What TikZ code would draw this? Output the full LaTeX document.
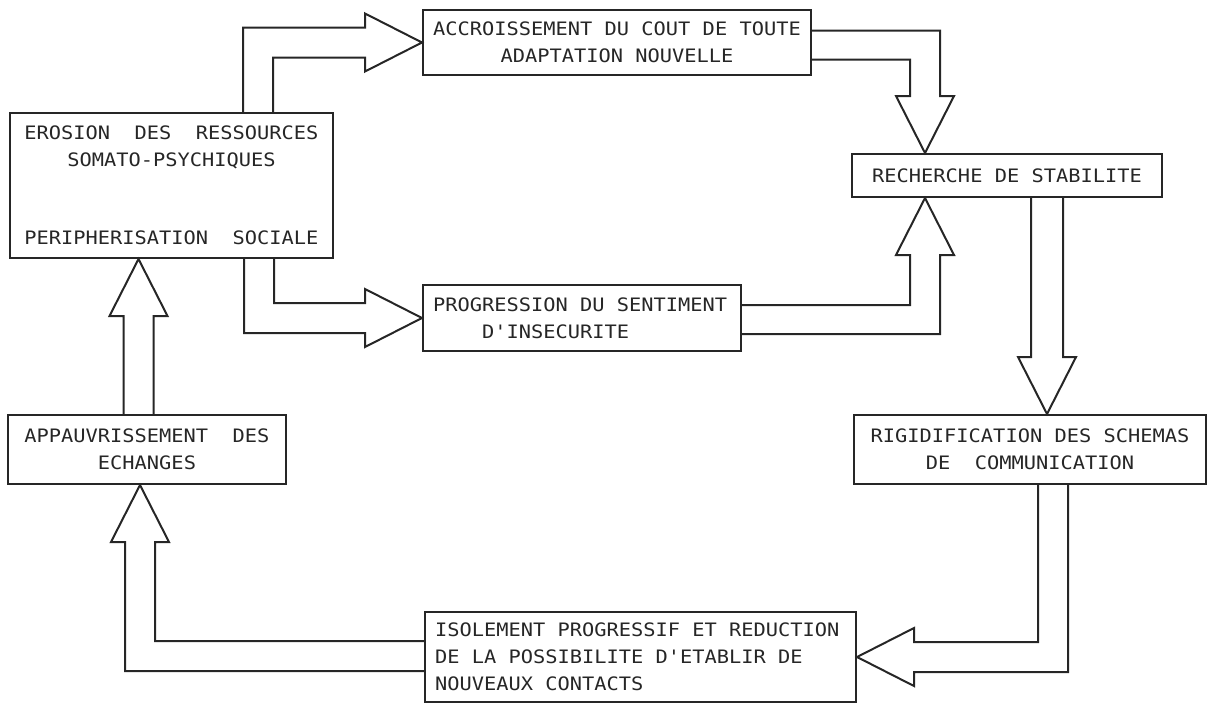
\documentclass[tikz,border=0pt]{standalone}
\usepackage{fontspec}
\setmonofont{DejaVu Sans Mono}[FakeStretch=1.1]

\tikzset{
    box/.style={draw, rectangle, line width=2pt, inner sep=0, align=center, font=\ttfamily\fontsize{18.5}{27}\selectfont},
    left box/.style={box, align=left, inner xsep=10, execute at begin node={\spaceskip=\fontdimen2\font}},
    hollow/.style={line width=2pt, line join=miter}
    }

\begin{document}
\begin{tikzpicture}[x=1pt, y=-1pt, color=black!85]
                \useasboundingbox (0,0) rectangle (1209,704);
                \node(acc)[box, minimum width=388, minimum height=65] at (617,42.5)
                    {ACCROISSEMENT DU COUT DE TOUTE\\ADAPTATION NOUVELLE};
                \node(ero)[box, minimum width=323, minimum height=145] at (171.5,185.5)
                    {EROSION~~DES~~RESSOURCES\\SOMATO-PSYCHIQUES\\[51pt]PERIPHERISATION~~SOCIALE};
                \node(rec)[box, minimum width=310, minimum height=43] at (1007,175.5)
                    {RECHERCHE DE STABILITE};
                \node(pro)[left box, text width=298, minimum height=66] at (582,318)
                    {PROGRESSION DU SENTIMENT\\\phantom{XXXX}D'INSECURITE};
                \node(rig)[box, minimum width=352, minimum height=69] at (1030,449.5)
                    {RIGIDIFICATION DES SCHEMAS\\DE~~COMMUNICATION};
                \node(app)[box, minimum width=278, minimum height=69] at (147,449.5)
                    {APPAUVRISSEMENT~~DES\\ECHANGES};
                \node(iso)[left box, text width=411, minimum height=90] at (640.5,657)
                    {ISOLEMENT PROGRESSIF ET REDUCTION\\DE LA POSSIBILITE D'ETABLIR DE\\NOUVEAUX CONTACTS};

                \draw[hollow] ([shift={(234,0)}]ero.north west) |- ([shift={(-57,-15)}]acc.west) -- ++(0,-14)
                    -- (acc.west) -- ++(-57,29) -- ++(0,-14) -| ([shift={(264,0)}]ero.north west);
                \draw[hollow] ([shift={(235,0)}]ero.south west) |- ([shift={(-57,15)}]pro.west) -- ++(0,14)
                    -- (pro.west) -- ++(-57,-29) -- ++(0,14) -| ([shift={(265,0)}]ero.south west);
                \draw[hollow] ([shift={(0,-12)}]acc.east) -| ([shift={(89,-57)}]rec.north west) -- ++(14,0)
                    -- ([shift={(74,0)}]rec.north west) -- ++(-29,-57) -- ++(14,0) |- ([shift={(0,17)}]acc.east);
                \draw[hollow] ([shift={(0,-13)}]pro.east) -| ([shift={(59,57)}]rec.south west) -- ++(-14,0)
                    -- ([shift={(74,0)}]rec.south west) -- ++(29,57) -- ++(-14,0) |- ([shift={(0,16)}]pro.east);
                \draw[hollow] ([shift={(24,0)}]rec.south) -- ([shift={(1,-57)}]rig.north) -- ++(-13,0)
                    -- ([shift={(17,0)}]rig.north) -- ++(29,-57) -- ++(-13,0) -- ([shift={(56,0)}]rec.south);
                \draw[hollow] ([shift={(8,0)}]rig.south) |- ([shift={(57,-15)}]iso.east) -- ++(0,-14)
                    -- (iso.east) -- ++(57,29) -- ++(0,-14) -| ([shift={(38,0)}]rig.south);
                \draw[hollow] ([shift={(0,-16)}]iso.west) -| ([shift={(8,57)}]app.south) -- ++(14,0)
                    -- ([shift={(-7,0)}]app.south) -- ++(-29,57) -- ++(14,0) |- ([shift={(0,14)}]iso.west);
                \draw[hollow] ([shift={(-23.5,0)}]app.north) -- ([shift={(-48,57)}]ero.south) -- ++(-14,0)
                    -- ([shift={(-33,0)}]ero.south) -- ++(29,57) -- ++(-14,0) -- ([shift={(6.5,0)}]app.north);
            \end{tikzpicture}
\end{document}
